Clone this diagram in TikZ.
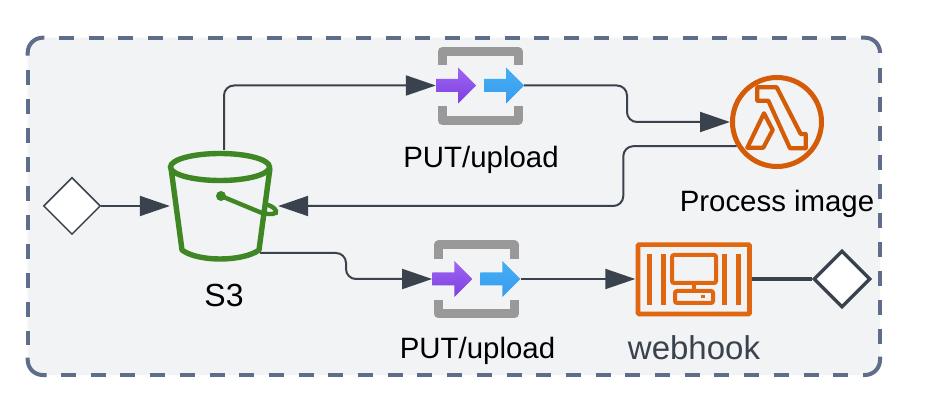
\documentclass[tikz,border=0pt]{standalone}
\usepackage{fontspec}
\setmainfont{Liberation Sans}
\usetikzlibrary{arrows.meta,shapes.geometric}
\definecolor{groupline}{HTML}{5D6D8A}
\definecolor{groupfill}{HTML}{F2F3F5}
\definecolor{connline}{HTML}{3A424E}
\definecolor{bucketgreen}{HTML}{3F8624}
\definecolor{lambdaorange}{HTML}{D45B07}
\definecolor{hookorange}{HTML}{E0660F}
\definecolor{bracketgray}{HTML}{999999}
\definecolor{purpletop}{HTML}{9F66F2}
\definecolor{purplebot}{HTML}{7C3FE0}
\definecolor{bluetop}{HTML}{45AEF3}
\definecolor{bluebot}{HTML}{389CF0}
\tikzset{
  conn/.style={draw=connline,line width=2,rounded corners=10,-{Triangle[length=30,width=20]}},
  gate/.style={diamond,draw=connline,fill=white,inner sep=0,aspect=1,minimum size=57},
  iconbox/.style={inner sep=0,minimum width=88,minimum height=78},
  groupside/.style={groupline,line width=4,dash pattern=on 15 off 14.7},
  groupcorner/.style={groupline,line width=4,rounded corners=15},
  label/.style={font=\fontsize{29.4}{29.4}\selectfont,inner sep=0},
}
\begin{document}
\begin{tikzpicture}[x=1pt,y=-1pt]
  \useasboundingbox (0,0) rectangle (938,414);
  \fill[white] (0,0) rectangle (938,414);
  \fill[groupfill,rounded corners=15] (27.7,37.7) rectangle (880,375);
  \draw[groupside] (59,37.7) -- (847,37.7);
  \draw[groupside] (61,375) -- (848,375);
  \draw[groupside,dash pattern=on 15 off 14] (27.7,70) -- (27.7,345);
  \draw[groupside,dash pattern=on 15 off 14] (880,68) -- (880,344);
  \draw[groupcorner] (27.7,55.7) -- (27.7,37.7) -- (44.3,37.7);
  \draw[groupcorner] (861,37.7) -- (880,37.7) -- (880,53);
  \draw[groupcorner] (27.7,357.7) -- (27.7,375) -- (46.7,375);
  \draw[groupcorner] (863,375) -- (880,375) -- (880,356.7);

  \node[gate,line width=1.5] (start) at (72,206) {};
  \node[gate,line width=3.4] (finish) at (842,279) {};
  \node[inner sep=0,minimum width=108,minimum height=112] (s3) at (224,206) {};
  \coordinate (s3out) at (260,253);
  \node[circle,draw=lambdaorange,line width=5,minimum size=89,inner sep=0] (lambda) at (777,122) {};
  \node[inner sep=0,minimum width=116,minimum height=74] (hook) at (693.5,279) {};
  \coordinate (bendA) at (627,122);
  \coordinate (bendB) at (623.3,206);
  \coordinate (bendC) at (346,279);

  \foreach \name/\cx/\cy in {putA/480/85.5,putB/476.3/279} {
    \node[iconbox] (\name) at (\cx,\cy) {};
    \begin{scope}[shift={(\cx,\cy)}]
      \draw[bracketgray,line width=9,line join=round] (-38,-20) -- (-38,-34) -- (38,-34) -- (38,-20);
      \draw[bracketgray,line width=9,line join=round] (-38,21) -- (-38,35) -- (38,35) -- (38,21);
      \shade[top color=purpletop,bottom color=purplebot]
        (-44,-6.5) -- (-22,-6.5) -- (-22,-18) -- (-4,0) -- (-22,18) -- (-22,6.5) -- (-44,6.5) -- cycle;
      \shade[top color=bluetop,bottom color=bluebot]
        (4,-6.5) -- (26,-6.5) -- (26,-18) -- (44,0) -- (26,18) -- (26,6.5) -- (4,6.5) -- cycle;
    \end{scope}
  }

  \draw[conn] (start.east) -- (s3.west);
  \draw[conn] (s3.north) |- (putA.west);
  \draw[conn] (putA.east) -| (bendA) -- (lambda.west);
  \draw[conn] (lambda.211) -| (bendB) -- (s3.east);
  \draw[conn] (s3out) -| (bendC) -- (putB.west);
  \draw[conn] (putB.east) -- (hook.west);
  \draw[connline,line width=3.5] (hook.east) -- (finish.west);

  \draw[bucketgreen,line width=5.4] (220,167) ellipse [x radius=49.5,y radius=13.5];
  \draw[bucketgreen,line width=5.4,line join=round] (171,168) -- (182,250) .. controls (190,256) and (205,259) .. (220,259)
    .. controls (235,259) and (251,256) .. (259,250) -- (270,168);
  \fill[bucketgreen] (221,196) circle (5);
  \draw[bucketgreen,line width=4.4,line cap=round] (221,196) -- (262,213) .. controls (270,215) and (278,214) .. (276,211)
    .. controls (275,208) and (271,206) .. (268,205);

  \draw[lambdaorange,line width=4.2,line join=round] (757.3,87.3) -- (776.7,87.3) -- (800.7,134) -- (805.7,134) -- (805.7,148.3)
    -- (790,148.3) -- (768.3,100.7) -- (757.3,100.7) -- cycle;
  \draw[lambdaorange,line width=4.2,line join=round] (764,113.3) -- (772.7,130) -- (763.3,147.7) -- (747.3,147.7) -- cycle;

  \draw[hookorange,line width=4.6,rounded corners=1] (638,244.7) rectangle (749.5,314);
  \foreach \bx in {649.2,663.5,724.2,738} {
    \fill[hookorange] (\bx-2.5,254) rectangle (\bx+2.5,305);
  }
  \draw[hookorange,line width=4,rounded corners=2] (672,255) rectangle (716,283);
  \draw[hookorange,line width=4] (693.5,283) -- (693.5,291);
  \draw[hookorange,line width=4,rounded corners=2] (675,291) rectangle (713,303);
  \fill[hookorange] (701,295.5) rectangle (705,298);

  \node[label,font=\fontsize{32}{32}\selectfont] (s3label) at (224,295) {S3};
  \node[label] (putAlabel) at (481,160) {PUT/upload};
  \node[label] (putBlabel) at (477.5,351) {PUT/upload};
  \node[label] (lambdalabel) at (777,204) {Process image};
  \node[label,text=connline,font=\fontsize{33}{33}\selectfont] (hooklabel) at (694,347.5) {webhook};
\end{tikzpicture}
\end{document}
